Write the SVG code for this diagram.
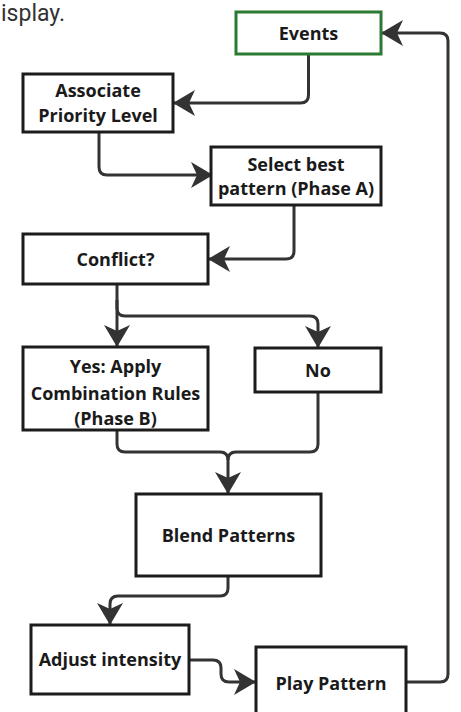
<svg xmlns="http://www.w3.org/2000/svg" width="461" height="712" viewBox="0 0 461 712">
<defs>
<style>
.box{fill:#fff;stroke:#1c1c1c;stroke-width:3}
.lbl{font-family:"Open Sans","DejaVu Sans",sans-serif;font-weight:bold;font-size:18px;fill:#1a1a1a;text-anchor:middle}
.con{fill:none;stroke:#333;stroke-width:3;marker-end:url(#arr)}
.nom{fill:none;stroke:#333;stroke-width:3}
</style>
<marker id="arr" markerUnits="userSpaceOnUse" markerWidth="22" markerHeight="26" viewBox="0 0 22 26" refX="21" refY="13" orient="auto">
<path d="M22,13 L0,0 L6,13 L0,26 Z" fill="#333"/>
</marker>
</defs>
<rect width="461" height="712" fill="#fff"/>
<text x="1" y="21" font-family="Roboto,'Liberation Sans',sans-serif" font-size="23" fill="#333">isplay.</text>
<g id="connectors">
<path class="con" d="M308.5,54 V95 Q308.5,103 300.5,103 H174"/>
<path class="con" d="M99,132 V167 Q99,175 107,175 H212"/>
<path class="con" d="M294,205 V251 Q294,259 286,259 H209"/>
<path class="con" d="M117,284 V346"/>
<path class="con" d="M117,300 V308 Q117,316 125,316 H310 Q318,316 318,324 V347"/>
<path class="con" d="M117,430 V444 Q117,452 125,452 H220 Q228,452 228,460 V493"/>
<path class="nom" d="M318,392 V444 Q318,452 310,452 H236 Q228,452 228,460"/>
<path class="con" d="M228,576 V588 Q228,596 220,596 H118 Q110,596 110,604 V624"/>
<path class="con" d="M189,660 H213 Q221,660 221,668 V674 Q221,682 229,682 H255"/>
<path class="con" d="M406,682 H440 Q448,682 448,674 V41 Q448,33 440,33 H382"/>
</g>
<g id="events"><rect x="236" y="12" width="145" height="42" fill="#fff" stroke="#2a7a32" stroke-width="3"/><text class="lbl" x="308.5" y="39.5">Events</text></g>
<g id="associate"><rect class="box" x="23" y="74" width="150" height="58"/><text class="lbl" x="98" y="97">Associate</text><text class="lbl" x="98" y="122">Priority Level</text></g>
<g id="select"><rect class="box" x="211" y="147" width="170" height="58"/><text class="lbl" x="296" y="171">Select best</text><text class="lbl" x="296" y="195">pattern (Phase A)</text></g>
<g id="conflict"><rect class="box" x="23" y="234" width="185" height="50"/><text class="lbl" x="115.5" y="266">Conflict?</text></g>
<g id="yes"><rect class="box" x="23" y="347" width="185" height="83"/><text class="lbl" x="115.5" y="373">Yes: Apply</text><text class="lbl" x="115.5" y="400">Combination Rules</text><text class="lbl" x="115.5" y="425">(Phase B)</text></g>
<g id="no"><rect class="box" x="255" y="348" width="126" height="44"/><text class="lbl" x="318" y="376.5">No</text></g>
<g id="blend"><rect class="box" x="136" y="494" width="185" height="82"/><text class="lbl" x="228.5" y="541.5">Blend Patterns</text></g>
<g id="adjust"><rect class="box" x="31" y="625" width="158" height="69"/><text class="lbl" x="110" y="666">Adjust intensity</text></g>
<g id="play"><rect class="box" x="256" y="647" width="150" height="75"/><text class="lbl" x="331" y="690">Play Pattern</text></g>
</svg>
